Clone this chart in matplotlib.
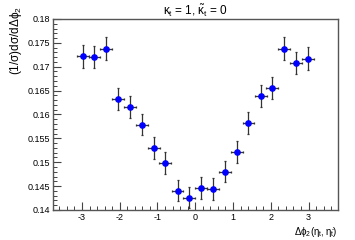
import matplotlib.pyplot as plt
from matplotlib.ticker import MultipleLocator, FormatStrFormatter

plt.rcParams['font.family'] = ['Liberation Sans', 'DejaVu Sans']
plt.rcParams['mathtext.fontset'] = 'custom'
plt.rcParams['mathtext.rm'] = 'Liberation Sans'
plt.rcParams['mathtext.it'] = 'Liberation Sans'
plt.rcParams['mathtext.bf'] = 'Liberation Sans:bold'

# bin centres of dphi2 (20 bins over [-pi, pi])
dphi = [-2.98, -2.67, -2.36, -2.04, -1.73, -1.41, -1.10, -0.79, -0.47, -0.16,
        0.16, 0.47, 0.79, 1.10, 1.41, 1.73, 2.04, 2.36, 2.67, 2.98]
xerr = [0.157] * 20
val = [0.1722, 0.1720, 0.1738, 0.1632, 0.1615, 0.1579, 0.1530, 0.1498, 0.1440, 0.1426,
       0.1446, 0.1443, 0.1480, 0.1521, 0.1583, 0.1639, 0.1655, 0.1738, 0.1708, 0.1717]
err = [0.0024, 0.0023, 0.0024, 0.0023, 0.0023, 0.0023, 0.0023, 0.0023, 0.0022, 0.0022,
       0.0023, 0.0023, 0.0022, 0.0023, 0.0023, 0.0023, 0.0023, 0.0024, 0.0023, 0.0024]

fig = plt.figure(figsize=(3.55, 2.4), dpi=100)
ax = fig.add_axes([0.149, 0.125, 0.802, 0.796])

ax.errorbar(dphi, val, xerr=xerr, yerr=err, fmt='o', color='#0000ff', ms=3.8,
            mec='#0000ff', ecolor='#333333', elinewidth=0.9, capsize=1.0, capthick=0.9,
            zorder=3)

ax.set_xlim(-3.77, 3.77)
ax.set_ylim(0.14, 0.18)
ax.xaxis.set_major_locator(MultipleLocator(1))
ax.xaxis.set_minor_locator(MultipleLocator(0.2))
ax.yaxis.set_major_locator(MultipleLocator(0.005))
ax.yaxis.set_minor_locator(MultipleLocator(0.001))
ax.yaxis.set_major_formatter(FormatStrFormatter('%g'))
ax.xaxis.set_major_formatter(FormatStrFormatter('%g'))

ax.tick_params(which='both', direction='in', top=False, right=False,
               labelsize=6.5, color='#444444', pad=2)
ax.tick_params(which='major', length=6, width=0.8)
ax.tick_params(which='minor', length=3, width=0.7)
for s in ax.spines.values():
    s.set_color('#555555')
    s.set_linewidth(1.0)

ax.set_title(r'$\kappa_t$ = 1, $\tilde{\kappa}_t$ = 0', fontsize=8.5, pad=3)
ax.set_xlabel(r'$\Delta\phi_2(\eta_t,\eta_{\bar{t}})$', fontsize=7, loc='right', labelpad=2)
ax.set_ylabel(r'$(1/\sigma)d\sigma/d\Delta\phi_2$', fontsize=8.5, ha='right', va='center')
ax.yaxis.set_label_coords(-0.128, 1.068)

fig.savefig('out.png', dpi=100)
